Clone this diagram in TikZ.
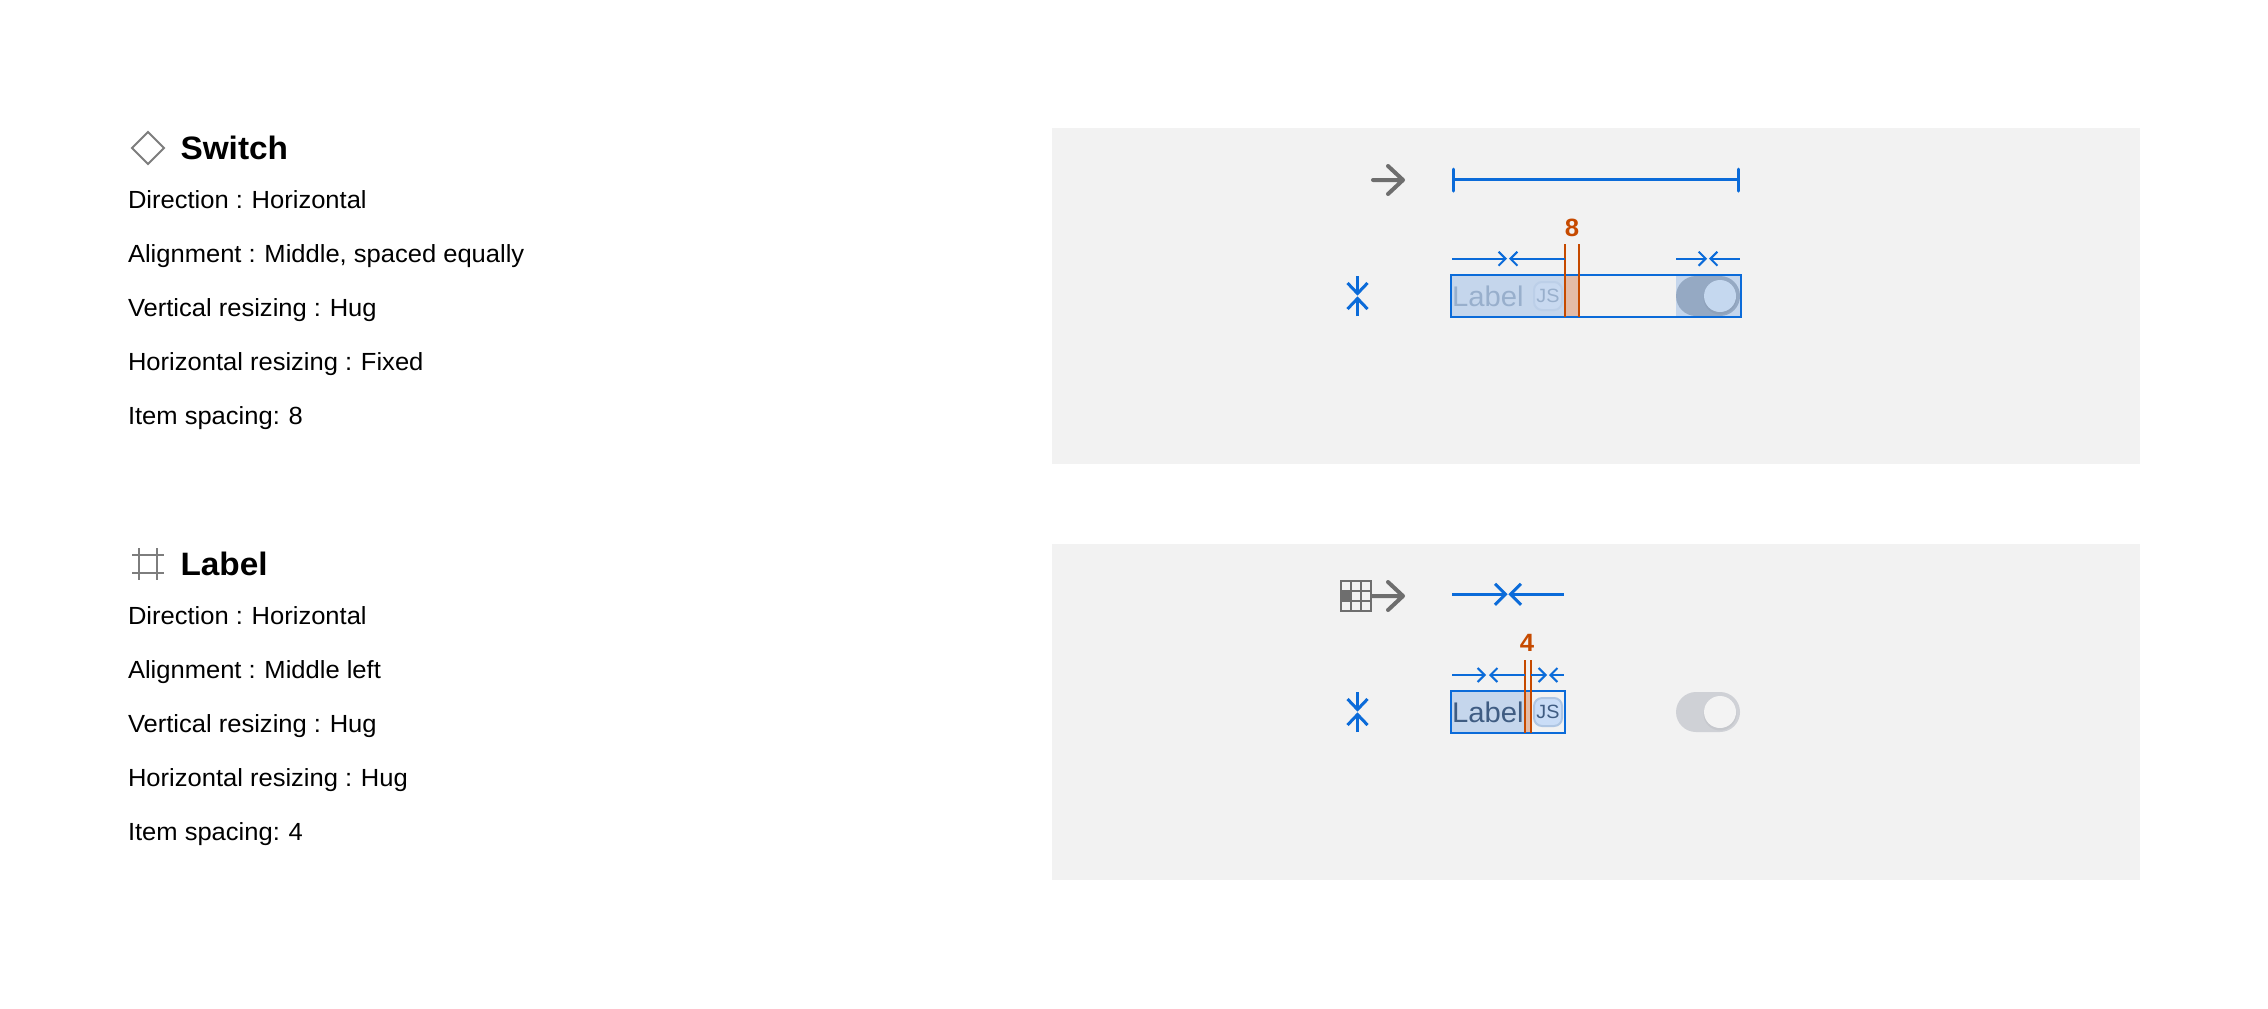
\documentclass[tikz,border=0pt]{standalone}
\usepackage{fontspec}
\setmainfont[FakeStretch=1.03]{Liberation Sans}
\definecolor{panel}{HTML}{F2F2F2}
\definecolor{guide}{HTML}{0B6BD9}
\definecolor{gap}{HTML}{C64A00}
\definecolor{gapfill}{HTML}{E4BBA6}
\definecolor{hugfill}{HTML}{C5D6EC}
\definecolor{icongrey}{HTML}{6E6E6E}
\definecolor{fadedtext}{HTML}{98AFCC}
\definecolor{darktext}{HTML}{3F5C82}
\definecolor{badgeA}{HTML}{C8D9F0}
\definecolor{badgeAline}{HTML}{BCCFE8}
\definecolor{badgeB}{HTML}{CADDF7}
\definecolor{badgeBline}{HTML}{AFC6E3}
\definecolor{toggleA}{HTML}{95A9C3}
\definecolor{knobA}{HTML}{C5D8EF}
\definecolor{toggleB}{HTML}{CFD1D6}
\definecolor{knobB}{HTML}{F3F3F3}
\tikzset{
  x=0.5pt,y=-0.5pt,
  panelbox/.style={fill=panel,draw=none,anchor=north west,minimum width=544pt,minimum height=168pt,inner sep=0pt,outer sep=0pt},
  bodytext/.style={anchor=base west,inner sep=0pt,outer sep=0pt,font=\fontsize{12.4pt}{15pt}\selectfont,text=black},
  headtext/.style={anchor=base west,inner sep=0pt,outer sep=0pt,font=\fontsize{16.2pt}{19pt}\selectfont\bfseries,text=black},
  iconline/.style={draw=icongrey!90,line width=1pt},
  greyarrow/.style={draw=icongrey,line width=2pt,line cap=round,line join=round},
  mainline/.style={draw=guide,line width=1.5pt},
  thinline/.style={draw=guide,line width=1pt},
  gapline/.style={draw=gap,line width=1pt},
  framebox/.style={draw=guide,line width=1pt,anchor=north west,minimum height=21pt,inner sep=0pt,outer sep=0pt},
  valuetext/.style={inner sep=0pt,outer sep=0pt,font=\fontsize{12.5pt}{14pt}\selectfont\bfseries,text=gap},
  labeltext/.style={anchor=base west,inner sep=0pt,outer sep=0pt,font=\fontsize{14.2pt}{17pt}\selectfont},
  jstext/.style={inner sep=0pt,outer sep=0pt,font=\fontsize{9.6pt}{11pt}\selectfont},
  badgebox/.style={line width=1pt,rounded corners=4pt,minimum width=14pt,minimum height=14pt,inner sep=0pt,outer sep=0pt},
  togglebody/.style={rounded corners=10pt,minimum width=32pt,minimum height=20pt,inner sep=0pt,outer sep=0pt},
  knob/.style={circle,minimum size=16pt,inner sep=0pt,outer sep=0pt},
}
% \inarrows{y}{x left}{x tip left}{x tip right}{x right}{head size}{style}
\newcommand{\inarrows}[7]{%
  \draw[#7] (#2,#1) -- (#3,#1);
  \draw[#7] (#3-#6,#1-#6) -- (#3,#1) -- (#3-#6,#1+#6);
  \draw[#7] (#4,#1) -- (#5,#1);
  \draw[#7] (#4+#6,#1-#6) -- (#4,#1) -- (#4+#6,#1+#6);
}
% \vinarrows{x}{y top}{y bottom}
\newcommand{\vinarrows}[3]{%
  \draw[mainline] (#1,#2) -- (#1,#2+17.5);
  \draw[mainline] (#1-10,#2+7) -- (#1,#2+17.5) -- (#1+10,#2+7);
  \draw[mainline] (#1,#3) -- (#1,#3-17.5);
  \draw[mainline] (#1-10,#3-7) -- (#1,#3-17.5) -- (#1+10,#3-7);
}
\newcommand{\kv}[2]{#1\hspace{-0.03em} #2}
\begin{document}
\begin{tikzpicture}
\useasboundingbox (0,0) rectangle (2268,1008);
\fill[white] (0,0) rectangle (2268,1008);
% ---- panels
\node[panelbox] (panelA) at (1052,128) {};
\node[panelbox] (panelB) at (1052,544) {};
% ---- left text, Switch
\draw[iconline,line join=miter] (132,148) -- (148,132) -- (164,148) -- (148,164) -- cycle;
\node[headtext] (swhead) at (180.5,159) {Switch};
\node[bodytext] (a1) at (128,208) {\kv{Direction :}{Horizontal}};
\node[bodytext] (a2) at (128,262) {\kv{Alignment :}{Middle, spaced equally}};
\node[bodytext] (a3) at (128,316) {\kv{Vertical resizing :}{Hug}};
\node[bodytext] (a4) at (128,370) {\kv{Horizontal resizing :}{Fixed}};
\node[bodytext] (a5) at (128,424) {\kv{Item spacing:}{8}};
% ---- left text, Label
\draw[iconline] (139,548) -- (139,580) (157,548) -- (157,580) (132,555) -- (164,555) (132,573) -- (164,573);
\node[headtext] (lbhead) at (180.5,575) {Label};
\node[bodytext] (b1) at (128,624) {\kv{Direction :}{Horizontal}};
\node[bodytext] (b2) at (128,678) {\kv{Alignment :}{Middle left}};
\node[bodytext] (b3) at (128,732) {\kv{Vertical resizing :}{Hug}};
\node[bodytext] (b4) at (128,786) {\kv{Horizontal resizing :}{Hug}};
\node[bodytext] (b5) at (128,840) {\kv{Item spacing:}{4}};
% ---- Panel A
\draw[greyarrow] (1373,180) -- (1402,180) (1388,166) -- (1403,180) -- (1388,194);
\draw[mainline,line cap=round] (1453.5,179.5) -- (1738,179.5) (1453.5,169) -- (1453.5,191) (1738,169) -- (1738,191);
\vinarrows{1357.5}{276}{316}
\fill[hugfill] (1452,276) rectangle (1565,316);
\fill[gapfill] (1565,276) rectangle (1579,316);
\fill[hugfill] (1676,276) rectangle (1740,316);
\node[labeltext,text=fadedtext] (albl) at (1452,306) {Label};
\node[draw=badgeAline,fill=badgeA,badgebox] (abadge) at (1548,296) {};
\node[jstext,text=fadedtext] (ajs) at (1548,296) {JS};
\node[fill=toggleA,togglebody] (atoggle) at (1708,296) {};
\fill[black,opacity=0.04] (1720,298) circle[radius=16.5];
\node[fill=knobA,knob] (aknob) at (1720,296) {};
\node[framebox,minimum width=145pt] (aframe) at (1451,275) {};
\draw[gapline] (1565,244) -- (1565,317) (1579,244) -- (1579,317);
\inarrows{258.7}{1452}{1505.6}{1510.4}{1565}{7}{thinline}
\inarrows{258.7}{1676}{1705.6}{1710.4}{1740}{7}{thinline}
\node[valuetext] (aval) at (1572,228) {8};
% ---- Panel B
\draw[draw=icongrey,line width=1pt] (1341,581) rectangle (1371,611);
\draw[draw=icongrey,line width=1pt] (1351,581) -- (1351,611) (1361,581) -- (1361,611) (1341,591) -- (1371,591) (1341,601) -- (1371,601);
\fill[icongrey] (1341,591) rectangle (1351,601);
\draw[greyarrow] (1372,596) -- (1402,596) (1388,582) -- (1403,596) -- (1388,610);
\inarrows{594.3}{1452}{1505.5}{1510.5}{1564}{10.5}{mainline}
\vinarrows{1357.5}{692}{732}
\fill[hugfill] (1452,692) rectangle (1525,732);
\fill[gapfill] (1525,692) rectangle (1531,732);
\node[labeltext,text=darktext] (blbl) at (1452,722) {Label};
\node[draw=badgeBline,fill=badgeB,badgebox] (bbadge) at (1548,712) {};
\node[jstext,text=darktext] (bjs) at (1548,712) {JS};
\node[fill=toggleB,togglebody] (btoggle) at (1708,712) {};
\fill[black,opacity=0.04] (1720,714) circle[radius=16.5];
\node[fill=knobB,knob] (bknob) at (1720,712) {};
\node[framebox,minimum width=57pt] (bframe) at (1451,691) {};
\draw[gapline] (1525,660) -- (1525,733) (1531,660) -- (1531,733);
\inarrows{675}{1452}{1484.6}{1490.4}{1525}{7}{thinline}
\inarrows{675}{1531}{1545.6}{1550.4}{1564}{7}{thinline}
\node[valuetext] (bval) at (1527,643) {4};
\end{tikzpicture}
\end{document}
